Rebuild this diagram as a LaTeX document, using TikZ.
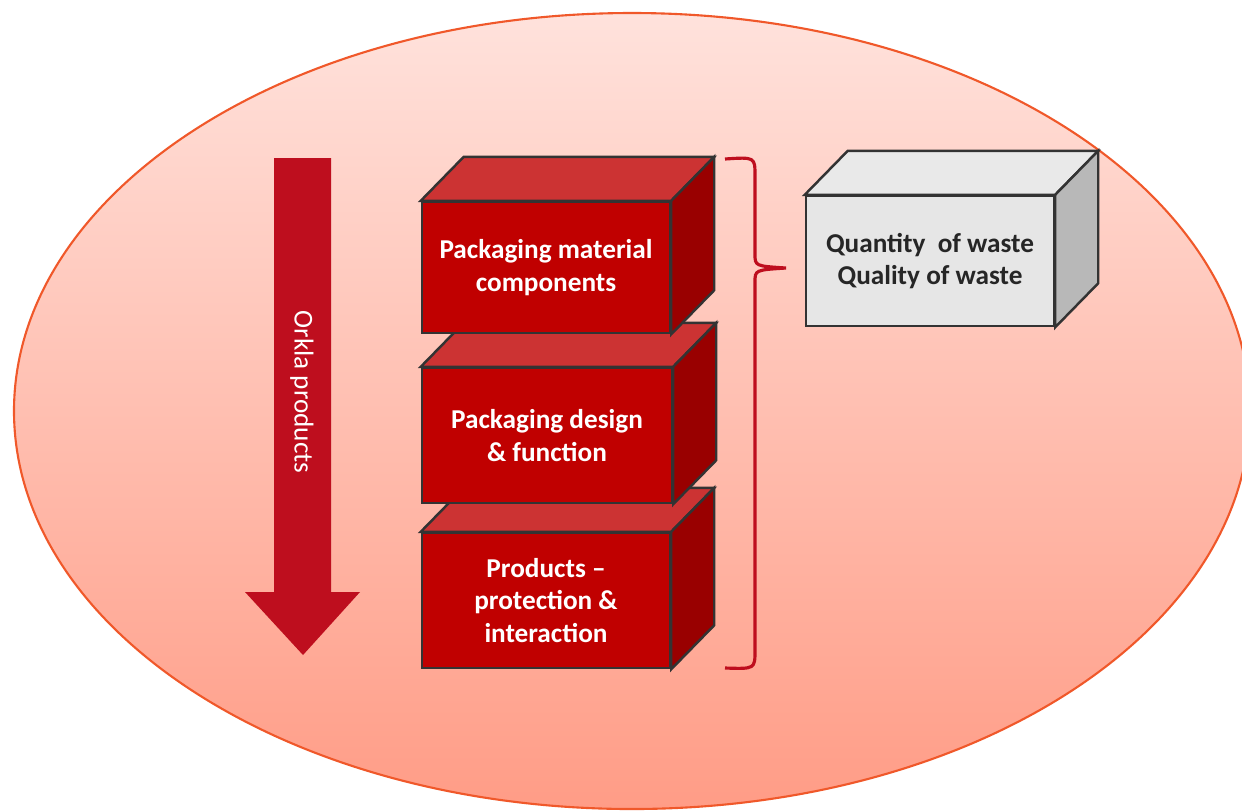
\documentclass[tikz,border=0pt]{standalone}
\usepackage{fontspec}
\setmainfont{Carlito}
\usetikzlibrary{positioning}

\definecolor{ringline}{HTML}{F0582A}
\definecolor{ringtop}{HTML}{FFE2DC}
\definecolor{ringbottom}{HTML}{FF9C86}
\definecolor{flowred}{HTML}{BE0E1E}
\definecolor{facered}{HTML}{C00000}
\definecolor{topred}{HTML}{CC3333}
\definecolor{sidered}{HTML}{990000}
\definecolor{facegrey}{HTML}{E6E6E6}
\definecolor{topgrey}{HTML}{E9E9E9}
\definecolor{sidegrey}{HTML}{B8B8B8}
\definecolor{edgegrey}{HTML}{333333}

\tikzset{
  edge/.style={draw=edgegrey, line width=1.4pt, line join=miter},
  redface/.style={edge, fill=facered, text=white, inner sep=0pt, align=center,
    font=\fontsize{15.5}{18.6}\selectfont\bfseries},
  greyface/.style={edge, fill=facegrey, text=black!85, inner sep=0pt, align=center,
    font=\fontsize{15.5}{18.6}\selectfont\bfseries},
}

% top and right faces of a box, drawn round its front node
\newcommand{\boxfaces}[3]{%
  \draw[edge, fill=#2] (#1.north west) -- ([shift={(43,-44)}]#1.north west)
    -- ([shift={(43,-44)}]#1.north east) -- (#1.north east) -- cycle;
  \draw[edge, fill=#3] (#1.north east) -- ([shift={(43,-44)}]#1.north east)
    -- ([shift={(43,-44)}]#1.south east) -- (#1.south east) -- cycle;
}

\begin{document}
\begin{tikzpicture}[x=0.2mm, y=-0.2mm]
    \useasboundingbox (0,0) rectangle (1242,810);

    \shade[top color=ringtop, bottom color=ringbottom, draw=ringline, line width=1.2pt]
      (632,411) ellipse [x radius=618, y radius=398];

    % flow arrow
    \path[fill=flowred] (274,158) -- (331,158) -- (331,592) -- (360,592) -- (303,655)
      -- (245,592) -- (274,592) -- cycle;
    \node(orkla) [rotate=-90, text=white, font=\fontsize{15.5}{18.6}\selectfont] at (302,392) {Orkla products};

    % stacked boxes, lowest first
    \node(prod) [redface, minimum width=49.6mm, minimum height=27mm] at (546,600.5)
      {Products --\\protection \&\\interaction};
    \boxfaces{prod}{topred}{sidered}
    \node(design) [redface, minimum width=50mm, minimum height=27mm] at (547,435.5)
      {Packaging design\\\& function};
    \boxfaces{design}{topred}{sidered}
    \node(material) [redface, minimum width=49.6mm, minimum height=26.2mm] at (546,267.5)
      {Packaging material\\components};
    \boxfaces{material}{topred}{sidered}

    \node(waste) [greyface, minimum width=49.6mm, minimum height=26mm] at (930,261)
      {Quantity\ \ of waste\\Quality of waste};
    \boxfaces{waste}{topgrey}{sidegrey}

    % brace
    \coordinate(tip) at (786,268);
    \draw[flowred, line width=1.8pt] (725,159) .. controls (755,157) .. (755,176) -- (755,254)
      .. controls (755,266) .. (tip) .. controls (755,270) .. (755,282) -- (755,650)
      .. controls (755,669) .. (725,668);

\end{tikzpicture}
\end{document}
